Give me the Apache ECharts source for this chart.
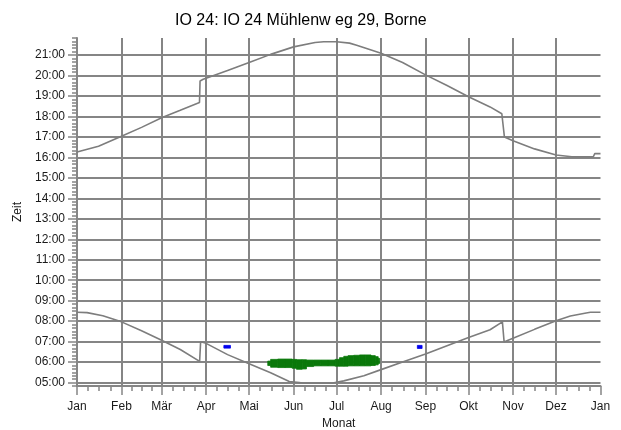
<!DOCTYPE html>
<html>
<head>
<meta charset="utf-8">
<script src="https://cdn.jsdelivr.net/npm/echarts@6/dist/echarts.min.js"></script>
<style>
  html, body { margin: 0; padding: 0; background: #fff; }
  #chart { width: 621px; height: 430px; }
</style>
</head>
<body>
<div id="chart"></div>
<script>
// Month boundaries (day of year) and their labels
const monthNames = ['Jan', 'Feb', 'Mär', 'Apr', 'Mai', 'Jun', 'Jul', 'Aug', 'Sep', 'Okt', 'Nov', 'Dez', 'Jan'];
const monthStartDays = [0, 31, 59, 90, 120, 151, 181, 212, 243, 273, 304, 334, 365];

// Hour ticks on the time axis
const hourTicks = [5, 6, 7, 8, 9, 10, 11, 12, 13, 14, 15, 16, 17, 18, 19, 20, 21];

// Sunset curve (day of year, local time)
const sunsetDays = [0, 15, 31, 45, 59, 72, 85.4, 85.8, 88, 90, 105, 120, 135, 151, 166, 172, 181, 190, 195, 212, 227, 243, 258, 273, 288, 296.2, 298, 304, 319, 334, 345, 355, 360, 361, 365];
const sunsetTimes = ['16:16', '16:33', '17:02', '17:28', '17:56', '18:18', '18:41', '19:44', '19:49', '19:52', '20:15', '20:38', '21:02', '21:24', '21:37', '21:39', '21:39', '21:35', '21:29', '21:05', '20:38', '20:02', '19:31', '18:58', '18:28', '18:08', '17:00', '16:49', '16:25', '16:07', '16:02', '16:02', '16:02', '16:11', '16:11'];

// Sunrise curve (day of year, local time)
const sunriseDays = [0, 7, 18, 31, 45, 59, 72, 85.5, 86.2, 90, 105, 120, 135, 148, 155, 158, 178, 180, 186, 200, 212, 227, 243, 258, 273, 288, 296.6, 297.8, 301, 304, 319, 334, 344, 355, 358, 365];
const sunriseTimes = ['08:26', '08:25', '08:16', '07:58', '07:32', '07:04', '06:37', '06:02', '07:00', '06:55', '06:22', '05:55', '05:29', '05:03', '05:00', '04:58', '04:58', '05:00', '05:05', '05:20', '05:38', '06:00', '06:24', '06:48', '07:12', '07:35', '07:58', '06:59', '07:05', '07:10', '07:36', '08:01', '08:15', '08:24', '08:26', '08:26'];

// Shadow periods: day range and daily begin/end time
const shadowFrom  = [133, 135, 140, 145, 150, 153, 157, 160, 165, 170, 175, 180, 183, 186, 189, 193, 197, 201, 205, 208, 210];
const shadowTo    = [135, 140, 145, 150, 153, 157, 160, 165, 170, 175, 180, 183, 186, 189, 193, 197, 201, 205, 208, 210, 211];
const shadowBegin = ['05:50', '05:45', '05:44', '05:44', '05:42', '05:39', '05:40', '05:47', '05:49', '05:49', '05:49', '05:48', '05:48', '05:48', '05:49', '05:49', '05:49', '05:49', '05:50', '05:52', '05:56'];
const shadowEnd   = ['06:03', '06:08', '06:09', '06:09', '06:08', '06:07', '06:07', '06:06', '06:06', '06:06', '06:06', '06:08', '06:13', '06:17', '06:19', '06:20', '06:21', '06:21', '06:19', '06:16', '06:11'];

// Short single events
const eventFrom  = [102.4, 237.3];
const eventTo    = [107, 240.6];
const eventBegin = ['06:41', '06:40'];
const eventEnd   = ['06:49', '06:49'];

function toHours(t) {
  const p = t.split(':');
  return Number(p[0]) + Number(p[1]) / 60;
}
function pad2(n) { return (n < 10 ? '0' : '') + n; }

const yMin = 4 + 50 / 60;
const yMax = 21 + 50 / 60;

// minor ticks: every 10 minutes on the time axis, quarter months on the month axis
const minorTimeTicks = [];
for (let m = 0; m <= 17 * 6; m++) minorTimeTicks.push(yMin + m / 6);
const minorDayTicks = [];
for (let i = 0; i < 12; i++) {
  const s = monthStartDays[i], L = monthStartDays[i + 1] - s;
  minorDayTicks.push(s + L / 4, s + L / 2, s + 3 * L / 4);
}

const gray = '#858585';
const labelFont = { color: '#1a1a1a', fontSize: 12, fontFamily: 'Arial, "Liberation Sans", sans-serif' };

const sunsetData = sunsetDays.map((d, i) => [d, toHours(sunsetTimes[i])]);
const sunriseData = sunriseDays.map((d, i) => [d, toHours(sunriseTimes[i])]);
const shadowData = shadowFrom.map((d, i) => [d, shadowTo[i], toHours(shadowBegin[i]), toHours(shadowEnd[i])]);
const eventData = eventFrom.map((d, i) => [d, eventTo[i], toHours(eventBegin[i]), toHours(eventEnd[i])]);

function rectItem(color) {
  return function (params, api) {
    const a = api.coord([api.value(0), api.value(3)]);
    const b = api.coord([api.value(1), api.value(2)]);
    return {
      type: 'rect',
      shape: { x: a[0], y: a[1], width: b[0] - a[0], height: b[1] - a[1] },
      style: { fill: color, stroke: color, lineWidth: 0.8 }
    };
  };
}

const chart = echarts.init(document.getElementById('chart'), null, { renderer: 'canvas' });
chart.setOption({
  animation: false,
  backgroundColor: '#ffffff',
  title: {
    text: 'IO 24: IO 24 Mühlenw eg 29, Borne',
    left: 170,
    top: 8,
    textStyle: { color: '#000', fontSize: 16, fontWeight: 'normal', fontFamily: 'Arial, "Liberation Sans", sans-serif' }
  },
  grid: { left: 77, right: 20.5, top: 38, bottom: 44, containLabel: false, outerBoundsMode: 'none' },
  xAxis: [
    {
      type: 'value', min: 0, max: 365, position: 'bottom',
      name: 'Monat', nameLocation: 'middle', nameGap: 30,
      nameTextStyle: labelFont,
      axisLine: { show: true, lineStyle: { color: gray, width: 2 } },
      axisTick: { show: true, customValues: monthStartDays, length: 9, lineStyle: { color: gray, width: 1.5 } },
      axisLabel: {
        customValues: monthStartDays, margin: 15, ...labelFont,
        formatter: v => monthNames[monthStartDays.indexOf(v)]
      },
      splitLine: { show: true, showMinLine: false, showMaxLine: false, lineStyle: { color: gray, width: 2 } }
    },
    {
      type: 'value', min: 0, max: 365, position: 'bottom',
      axisLine: { show: false },
      axisTick: { show: true, customValues: minorDayTicks, length: 5, lineStyle: { color: gray, width: 1.5 } },
      axisLabel: { show: false },
      splitLine: { show: false }
    }
  ],
  yAxis: [
    {
      type: 'value', min: yMin, max: yMax, position: 'left',
      name: 'Zeit', nameLocation: 'middle', nameGap: 52, nameRotate: 90,
      nameTextStyle: labelFont,
      axisLine: { show: true, lineStyle: { color: gray, width: 2 } },
      axisTick: { show: true, customValues: hourTicks, length: 9, lineStyle: { color: gray, width: 1.5 } },
      axisLabel: {
        customValues: hourTicks, margin: 12, ...labelFont,
        formatter: v => pad2(Math.round(v)) + ':00'
      },
      splitLine: { show: true, lineStyle: { color: gray, width: 2 } }
    },
    {
      type: 'value', min: yMin, max: yMax, position: 'left',
      axisLine: { show: false },
      axisTick: { show: true, customValues: minorTimeTicks, length: 5, lineStyle: { color: gray, width: 1.5 } },
      axisLabel: { show: false },
      splitLine: { show: false }
    }
  ],
  series: [
    {
      type: 'line', name: 'Sonnenuntergang', data: sunsetData, symbol: 'none',
      lineStyle: { color: '#7d7d7d', width: 1.6 }, z: 3
    },
    {
      type: 'line', name: 'Sonnenaufgang', data: sunriseData, symbol: 'none',
      lineStyle: { color: '#7d7d7d', width: 1.6 }, z: 3
    },
    {
      type: 'custom', name: 'Schattenwurf', data: shadowData,
      encode: { x: [0, 1], y: [2, 3] },
      renderItem: rectItem('#0a780a'), z: 4
    },
    {
      type: 'custom', name: 'Einzelereignis', data: eventData,
      encode: { x: [0, 1], y: [2, 3] },
      renderItem: rectItem('#0000ee'), z: 4
    }
  ]
});
</script>
</body>
</html>
